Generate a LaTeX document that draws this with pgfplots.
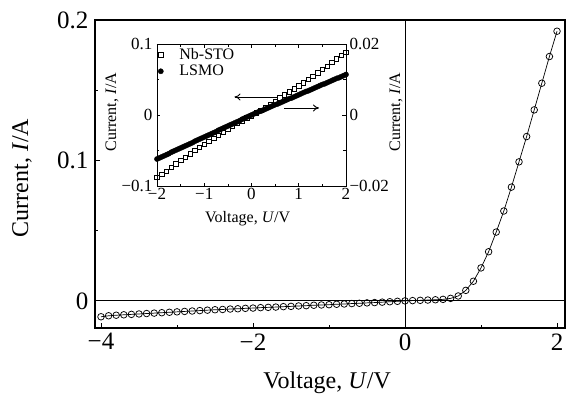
\documentclass[border=0pt]{standalone}
\usepackage{fontspec}
\setmainfont{Liberation Serif}
\usepackage{pgfplots}
\pgfplotsset{compat=1.18}
\usetikzlibrary{arrows.meta}

\pgfplotstableread{
V I
-4.0 -0.0113
-3.9 -0.0106
-3.8 -0.0102
-3.7 -0.0099
-3.6 -0.0096
-3.5 -0.0093
-3.4 -0.0090
-3.3 -0.0087
-3.2 -0.0084
-3.1 -0.0081
-3.0 -0.0078
-2.9 -0.0075
-2.8 -0.0072
-2.7 -0.0069
-2.6 -0.0066
-2.5 -0.0063
-2.4 -0.0061
-2.3 -0.0058
-2.2 -0.0056
-2.1 -0.0053
-2.0 -0.0051
-1.9 -0.0048
-1.8 -0.0046
-1.7 -0.0044
-1.6 -0.0041
-1.5 -0.0039
-1.4 -0.0036
-1.3 -0.0034
-1.2 -0.0031
-1.1 -0.0029
-1.0 -0.0027
-0.9 -0.0024
-0.8 -0.0022
-0.7 -0.0019
-0.6 -0.0017
-0.5 -0.0014
-0.4 -0.0012
-0.3 -0.0009
-0.2 -0.0006
-0.1 -0.0003
0.0 0.0000
0.1 0.0002
0.2 0.0004
0.3 0.0006
0.4 0.0008
0.5 0.0011
0.6 0.0018
0.7 0.0035
0.8 0.0075
0.9 0.0140
1.0 0.0235
1.1 0.0350
1.2 0.0490
1.3 0.0640
1.4 0.0810
1.5 0.0990
1.6 0.1170
1.7 0.1360
1.8 0.1550
1.9 0.1740
2.0 0.1920
}\maindata

\pgfplotstableread{
V I
-2.0 -0.0880
-1.9 -0.0838
-1.8 -0.0790
-1.7 -0.0739
-1.6 -0.0689
-1.5 -0.0641
-1.4 -0.0593
-1.3 -0.0546
-1.2 -0.0501
-1.1 -0.0456
-1.0 -0.0412
-0.9 -0.0369
-0.8 -0.0326
-0.7 -0.0284
-0.6 -0.0243
-0.5 -0.0202
-0.4 -0.0161
-0.3 -0.0120
-0.2 -0.0080
-0.1 -0.0040
0.0 -0.0010
0.1 0.0030
0.2 0.0070
0.3 0.0105
0.4 0.0150
0.5 0.0195
0.6 0.0240
0.7 0.0284
0.8 0.0326
0.9 0.0369
1.0 0.0412
1.1 0.0456
1.2 0.0501
1.3 0.0546
1.4 0.0593
1.5 0.0641
1.6 0.0689
1.7 0.0739
1.8 0.0790
1.9 0.0838
2.0 0.0885
}\nbsto

\pgfplotstableread{
V I
-2.00 -0.0124
-1.95 -0.0121
-1.90 -0.0118
-1.85 -0.0115
-1.80 -0.0112
-1.75 -0.0109
-1.70 -0.0105
-1.65 -0.0102
-1.60 -0.0099
-1.55 -0.0096
-1.50 -0.0093
-1.45 -0.0090
-1.40 -0.0087
-1.35 -0.0084
-1.30 -0.0081
-1.25 -0.0078
-1.20 -0.0074
-1.15 -0.0071
-1.10 -0.0068
-1.05 -0.0065
-1.00 -0.0062
-0.95 -0.0059
-0.90 -0.0056
-0.85 -0.0053
-0.80 -0.0050
-0.75 -0.0047
-0.70 -0.0043
-0.65 -0.0040
-0.60 -0.0037
-0.55 -0.0034
-0.50 -0.0031
-0.45 -0.0028
-0.40 -0.0025
-0.35 -0.0022
-0.30 -0.0019
-0.25 -0.0016
-0.20 -0.0012
-0.15 -0.0009
-0.10 -0.0006
-0.05 -0.0003
0.00 0.0000
0.05 0.0003
0.10 0.0006
0.15 0.0009
0.20 0.0011
0.25 0.0014
0.30 0.0017
0.35 0.0020
0.40 0.0023
0.45 0.0026
0.50 0.0029
0.55 0.0031
0.60 0.0034
0.65 0.0037
0.70 0.0040
0.75 0.0043
0.80 0.0046
0.85 0.0048
0.90 0.0051
0.95 0.0054
1.00 0.0057
1.05 0.0060
1.10 0.0063
1.15 0.0066
1.20 0.0068
1.25 0.0071
1.30 0.0074
1.35 0.0077
1.40 0.0080
1.45 0.0083
1.50 0.0086
1.55 0.0088
1.60 0.0091
1.65 0.0094
1.70 0.0097
1.75 0.0100
1.80 0.0103
1.85 0.0105
1.90 0.0108
1.95 0.0111
2.00 0.0114
}\lsmo

\begin{document}
\begin{tikzpicture}
% ---------- main axis ----------
\begin{axis}[
  at={(0pt,0pt)}, anchor=south west,
  scale only axis, width=470pt, height=308pt,
  xmin=-4.079, xmax=2.105, ymin=-0.0193, ymax=0.2,
  axis line style={line width=1.1pt},
  tick style={line width=0.9pt, black},
  tick align=inside, xtick pos=bottom, ytick pos=left,
  major tick length=5pt, minor tick length=3pt,
  xtick={-4,-2,0,2}, xticklabels={−4,−2,0,2},
  minor xtick={-3,-1,1},
  ytick={0,0.1,0.2}, yticklabels={0,0.1,0.2},
  minor ytick={0.05,0.15},
  scaled y ticks=false,
  ticklabel style={font=\fontsize{25}{27}\selectfont},
  xticklabel style={yshift=-2pt},
  yticklabel style={xshift=-3pt},
  xlabel={Voltage, \textit{U}/V},
  ylabel={Current, \textit{I}/A},
  label style={font=\fontsize{24}{26}\selectfont},
  xlabel style={at={(axis description cs:0.494,-0.195)}, anchor=base},
  ylabel style={at={(axis description cs:-0.155,0.487)}, anchor=center},
  clip=false,
]
\draw[line width=0.8pt] (axis cs:0,-0.0193) -- (axis cs:0,0.2);
\draw[line width=0.8pt] (axis cs:-4.079,0) -- (axis cs:2.105,0);
\addplot[black, line width=0.7pt, mark=o, mark size=3.3pt,
  mark options={solid, fill=white, line width=0.75pt}] table[x=V,y=I] {\maindata};
\end{axis}

% ---------- inset, left axis (Nb-STO) ----------
\begin{axis}[
  at={(62pt,142pt)}, anchor=south west,
  scale only axis, width=189pt, height=142pt,
  xmin=-2, xmax=2, ymin=-0.1, ymax=0.1,
  axis line style={line width=0.9pt},
  tick style={line width=0.7pt, black},
  tick align=inside, xtick pos=both, ytick pos=left,
  major tick length=3.5pt, minor tick length=2.5pt,
  xtick={-2,-1,0,1,2}, xticklabels={−2,−1,0,1,2},
  minor xtick={-1.5,-0.5,0.5,1.5},
  ytick={-0.1,0,0.1}, yticklabels={−0.1,0,0.1},
  minor ytick={-0.05,0.05},
  scaled y ticks=false,
  ticklabel style={font=\fontsize{17}{18}\selectfont},
  xticklabel style={yshift=1pt},
  yticklabel style={xshift=-1pt},
  xlabel={Voltage, \textit{U}/V},
  ylabel={Current, \textit{I}/A},
  label style={font=\fontsize{16}{17}\selectfont},
  xlabel style={at={(axis description cs:0.48,-0.254)}, anchor=base},
  ylabel style={at={(axis description cs:-0.238,0.52)}, anchor=center},
  clip=false,
]
\addplot[only marks, mark=square, mark size=2.2pt,
  mark options={fill=white, line width=0.6pt}] table[x=V,y=I] {\nbsto};
\draw[line width=0.9pt, -{To[length=6pt,width=7pt]}] (axis cs:0.54,0.0254) -- (axis cs:-0.36,0.0254);
\draw[line width=0.9pt, -{To[length=6pt,width=7pt]}] (axis cs:0.69,0.0099) -- (axis cs:1.43,0.0099);
\end{axis}

% ---------- inset, right axis (LSMO) ----------
\begin{axis}[
  at={(62pt,142pt)}, anchor=south west,
  scale only axis, width=189pt, height=142pt,
  xmin=-2, xmax=2, ymin=-0.02, ymax=0.02,
  axis x line=none, axis y line*=right,
  axis line style={line width=0.9pt, -},
  tick style={line width=0.7pt, black},
  tick align=inside, ytick pos=right,
  major tick length=3.5pt, minor tick length=2.5pt,
  ytick={-0.02,0,0.02}, yticklabels={−0.02,0,0.02},
  minor ytick={-0.01,0.01},
  scaled y ticks=false,
  ticklabel style={font=\fontsize{17}{18}\selectfont},
  ylabel={Current, \textit{I}/A},
  label style={font=\fontsize{16}{17}\selectfont},
  ylabel style={at={(axis description cs:1.265,0.52)}, anchor=center, rotate=0},
  legend style={at={(axis description cs:0.0,0.99)}, anchor=north west,
    draw=none, fill=none, font=\fontsize{16}{16}\selectfont,
    row sep=0pt, inner sep=1pt},
  legend cell align=left,
  clip=false,
]
\addlegendimage{only marks, mark=square, mark size=2.6pt, mark options={fill=white, line width=0.7pt}}
\addlegendentry{\hspace{14pt}Nb-STO}
\addplot[only marks, mark=*, mark size=2.6pt, black] table[x=V,y=I] {\lsmo};
\addlegendentry{\hspace{14pt}LSMO}
\end{axis}

\pgfresetboundingbox
\path[use as bounding box] (-95pt,-69pt) rectangle (473pt,328pt);
\end{tikzpicture}
\end{document}
